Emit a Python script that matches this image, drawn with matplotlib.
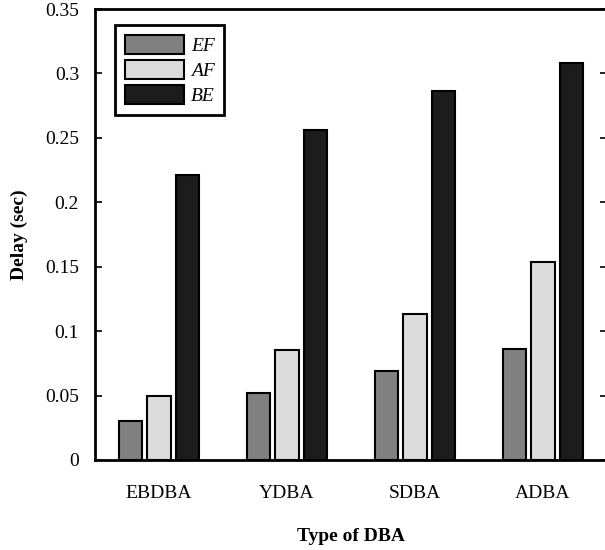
import numpy as np
import matplotlib
matplotlib.use("Agg")
import matplotlib.pyplot as plt

plt.rcParams['font.family'] = ['Liberation Serif', 'DejaVu Serif']

categories = ["EBDBA", "YDBA", "SDBA", "ADBA"]
series = ["EF", "AF", "BE"]
ef = [0.030, 0.052, 0.069, 0.086]
af = [0.050, 0.085, 0.113, 0.154]
be = [0.221, 0.256, 0.286, 0.308]
colors = ["#808080", "#dcdcdc", "#1c1c1c"]

fig = plt.figure(figsize=(6.05, 5.5), dpi=100)
ax = fig.add_axes([95/605, 90/550, 512/605, 451/550])

x = np.arange(len(categories))
step = 0.223
width = 0.18
for i, (vals, name) in enumerate(zip([ef, af, be], series)):
    ax.bar(x + (i - 1) * step, vals, width, color=colors[i], edgecolor="black",
           linewidth=1.5, label=name, zorder=3)

ax.set_xlim(-0.5, 3.5)
ax.set_ylim(0, 0.35)
ax.set_yticks(np.arange(0, 0.351, 0.05))
ax.set_yticklabels(["0", "0.05", "0.1", "0.15", "0.2", "0.25", "0.3", "0.35"])
ax.set_xticks(x)
ax.set_xticklabels(categories)
ax.tick_params(axis="x", length=0, pad=18, labelsize=14)
ax.tick_params(axis="y", direction="in", length=5, width=1.2, right=True,
               labelsize=14, pad=11.5)
for s in ax.spines.values():
    s.set_linewidth(2)

ax.set_xlabel("Type of DBA", fontsize=14, fontweight="bold", labelpad=19)
ax.set_ylabel("Delay (sec)", fontsize=14, fontweight="bold", labelpad=12)

leg = ax.legend(loc="upper left", bbox_to_anchor=(0.039, 0.965), borderaxespad=0,
                fancybox=False, framealpha=1, edgecolor="black",
                handlelength=3.05, handleheight=1.15, labelspacing=0.25,
                handletextpad=0.35, borderpad=0.5,
                prop={"style": "italic", "size": 14})
leg.get_frame().set_linewidth(2)

fig.savefig("out.png", dpi=100)
